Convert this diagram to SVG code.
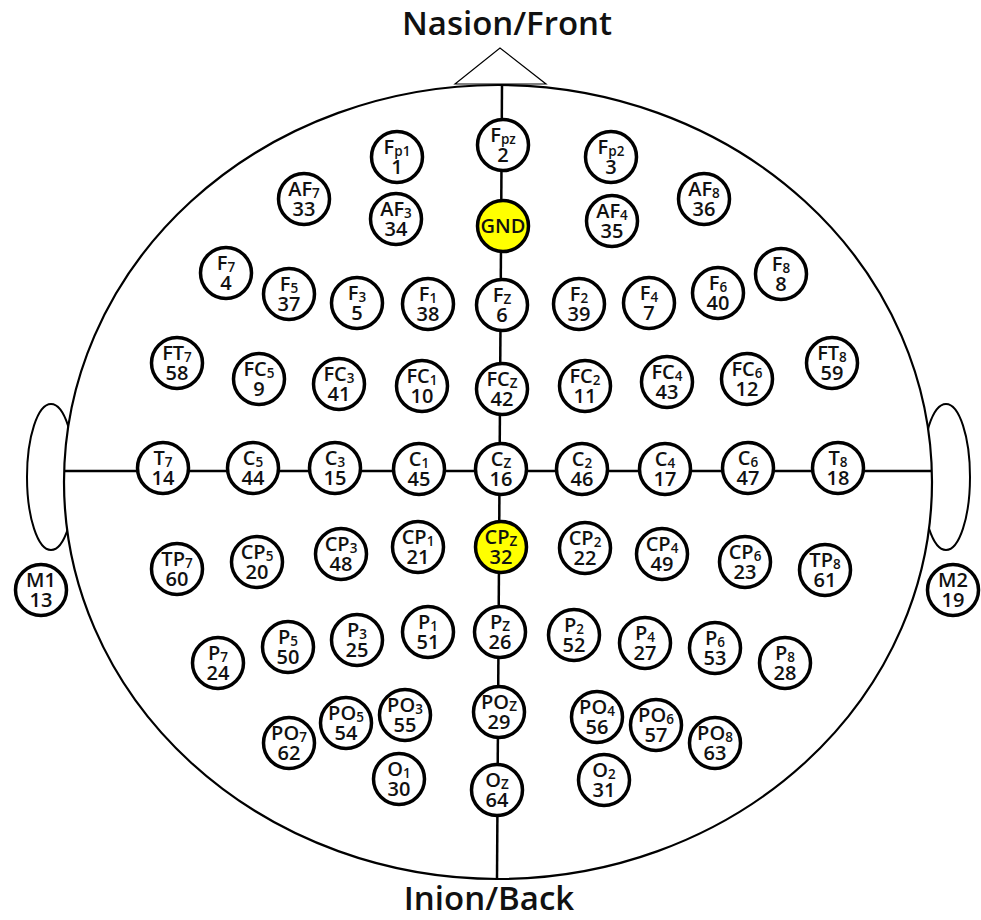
<svg xmlns="http://www.w3.org/2000/svg" width="981" height="920" viewBox="0 0 981 920">
<style>
.bg{fill:#fff}
.ear{fill:#fff;stroke:#000;stroke-width:2}
.head{fill:#fff;stroke:#000;stroke-width:2.2}
.tri{fill:none;stroke:#000;stroke-width:1.2}
.conn{stroke:#000;stroke-width:2.5;fill:none}
.node circle{fill:#fff;stroke:#000;stroke-width:3.5}
.node.hl circle{fill:#ffff00}
.node text{font-family:"Open Sans","Noto Sans","DejaVu Sans",sans-serif;font-size:20px;font-weight:600;fill:#111;text-anchor:middle}
.node text .s{font-size:13.5px}
.title{font-family:"Open Sans","Noto Sans","DejaVu Sans",sans-serif;font-size:33px;font-weight:600;fill:#111;text-anchor:middle}
</style>
<rect class="bg" x="0" y="0" width="981" height="920"/>
<g id="outline">
<ellipse class="ear" cx="51" cy="477" rx="24" ry="73"/>
<ellipse class="ear" cx="946" cy="477" rx="24" ry="73"/>
<ellipse class="head" cx="498" cy="482" rx="434" ry="397"/>
<polygon class="tri" points="455,84 500,48 546,84"/>
<text class="title" x="507" y="35">Nasion/Front</text>
<text class="title" x="489" y="910">Inion/Back</text>
</g>
<g id="connectors">
<line class="conn" x1="502" y1="85" x2="497" y2="879"/>
<line class="conn" x1="65" y1="471" x2="932" y2="471"/>
</g>
<g id="nodes">
<g id="n-Fp1" class="node"><circle cx="397" cy="157" r="25.5"/><text x="397" y="154">F<tspan class="s" dy="2">p1</tspan><tspan x="397" dy="18">1</tspan></text></g>
<g id="n-Fpz" class="node"><circle cx="503" cy="145" r="25.5"/><text x="503" y="142">F<tspan class="s" dy="2">pz</tspan><tspan x="503" dy="18">2</tspan></text></g>
<g id="n-Fp2" class="node"><circle cx="611" cy="157" r="25.5"/><text x="611" y="154">F<tspan class="s" dy="2">p2</tspan><tspan x="611" dy="18">3</tspan></text></g>
<g id="n-AF7" class="node"><circle cx="304" cy="199" r="25.5"/><text x="304" y="196">AF<tspan class="s" dy="2">7</tspan><tspan x="304" dy="18">33</tspan></text></g>
<g id="n-AF3" class="node"><circle cx="396" cy="219" r="25.5"/><text x="396" y="216">AF<tspan class="s" dy="2">3</tspan><tspan x="396" dy="18">34</tspan></text></g>
<g id="n-GND" class="node hl"><circle cx="503" cy="226" r="25.5"/><text x="503" y="233">GND</text></g>
<g id="n-AF4" class="node"><circle cx="612" cy="221" r="25.5"/><text x="612" y="218">AF<tspan class="s" dy="2">4</tspan><tspan x="612" dy="18">35</tspan></text></g>
<g id="n-AF8" class="node"><circle cx="704" cy="199" r="25.5"/><text x="704" y="196">AF<tspan class="s" dy="2">8</tspan><tspan x="704" dy="18">36</tspan></text></g>
<g id="n-F7" class="node"><circle cx="226" cy="273" r="25.5"/><text x="226" y="270">F<tspan class="s" dy="2">7</tspan><tspan x="226" dy="18">4</tspan></text></g>
<g id="n-F5" class="node"><circle cx="289" cy="294" r="25.5"/><text x="289" y="291">F<tspan class="s" dy="2">5</tspan><tspan x="289" dy="18">37</tspan></text></g>
<g id="n-F3" class="node"><circle cx="357" cy="303" r="25.5"/><text x="357" y="300">F<tspan class="s" dy="2">3</tspan><tspan x="357" dy="18">5</tspan></text></g>
<g id="n-F1" class="node"><circle cx="428" cy="304" r="25.5"/><text x="428" y="301">F<tspan class="s" dy="2">1</tspan><tspan x="428" dy="18">38</tspan></text></g>
<g id="n-Fz" class="node"><circle cx="502" cy="305" r="25.5"/><text x="502" y="302">F<tspan class="s" dy="2">Z</tspan><tspan x="502" dy="18">6</tspan></text></g>
<g id="n-F2" class="node"><circle cx="579" cy="304" r="25.5"/><text x="579" y="301">F<tspan class="s" dy="2">2</tspan><tspan x="579" dy="18">39</tspan></text></g>
<g id="n-F4" class="node"><circle cx="649" cy="303" r="25.5"/><text x="649" y="300">F<tspan class="s" dy="2">4</tspan><tspan x="649" dy="18">7</tspan></text></g>
<g id="n-F6" class="node"><circle cx="718" cy="293" r="25.5"/><text x="718" y="290">F<tspan class="s" dy="2">6</tspan><tspan x="718" dy="18">40</tspan></text></g>
<g id="n-F8" class="node"><circle cx="781" cy="274" r="25.5"/><text x="781" y="271">F<tspan class="s" dy="2">8</tspan><tspan x="781" dy="18">8</tspan></text></g>
<g id="n-FT7" class="node"><circle cx="177" cy="363" r="25.5"/><text x="177" y="360">FT<tspan class="s" dy="2">7</tspan><tspan x="177" dy="18">58</tspan></text></g>
<g id="n-FC5" class="node"><circle cx="259" cy="379" r="25.5"/><text x="259" y="376">FC<tspan class="s" dy="2">5</tspan><tspan x="259" dy="18">9</tspan></text></g>
<g id="n-FC3" class="node"><circle cx="339" cy="384" r="25.5"/><text x="339" y="381">FC<tspan class="s" dy="2">3</tspan><tspan x="339" dy="18">41</tspan></text></g>
<g id="n-FC1" class="node"><circle cx="422" cy="386" r="25.5"/><text x="422" y="383">FC<tspan class="s" dy="2">1</tspan><tspan x="422" dy="18">10</tspan></text></g>
<g id="n-FCz" class="node"><circle cx="502" cy="389" r="25.5"/><text x="502" y="386">FC<tspan class="s" dy="2">Z</tspan><tspan x="502" dy="18">42</tspan></text></g>
<g id="n-FC2" class="node"><circle cx="585" cy="386" r="25.5"/><text x="585" y="383">FC<tspan class="s" dy="2">2</tspan><tspan x="585" dy="18">11</tspan></text></g>
<g id="n-FC4" class="node"><circle cx="667" cy="382" r="25.5"/><text x="667" y="379">FC<tspan class="s" dy="2">4</tspan><tspan x="667" dy="18">43</tspan></text></g>
<g id="n-FC6" class="node"><circle cx="747" cy="379" r="25.5"/><text x="747" y="376">FC<tspan class="s" dy="2">6</tspan><tspan x="747" dy="18">12</tspan></text></g>
<g id="n-FT8" class="node"><circle cx="832" cy="363" r="25.5"/><text x="832" y="360">FT<tspan class="s" dy="2">8</tspan><tspan x="832" dy="18">59</tspan></text></g>
<g id="n-T7" class="node"><circle cx="163" cy="468" r="25.5"/><text x="163" y="465">T<tspan class="s" dy="2">7</tspan><tspan x="163" dy="18">14</tspan></text></g>
<g id="n-C5" class="node"><circle cx="253" cy="468" r="25.5"/><text x="253" y="465">C<tspan class="s" dy="2">5</tspan><tspan x="253" dy="18">44</tspan></text></g>
<g id="n-C3" class="node"><circle cx="335" cy="468" r="25.5"/><text x="335" y="465">C<tspan class="s" dy="2">3</tspan><tspan x="335" dy="18">15</tspan></text></g>
<g id="n-C1" class="node"><circle cx="419" cy="469" r="25.5"/><text x="419" y="466">C<tspan class="s" dy="2">1</tspan><tspan x="419" dy="18">45</tspan></text></g>
<g id="n-Cz" class="node"><circle cx="501" cy="469" r="25.5"/><text x="501" y="466">C<tspan class="s" dy="2">Z</tspan><tspan x="501" dy="18">16</tspan></text></g>
<g id="n-C2" class="node"><circle cx="582" cy="469" r="25.5"/><text x="582" y="466">C<tspan class="s" dy="2">2</tspan><tspan x="582" dy="18">46</tspan></text></g>
<g id="n-C4" class="node"><circle cx="665" cy="469" r="25.5"/><text x="665" y="466">C<tspan class="s" dy="2">4</tspan><tspan x="665" dy="18">17</tspan></text></g>
<g id="n-C6" class="node"><circle cx="748" cy="468" r="25.5"/><text x="748" y="465">C<tspan class="s" dy="2">6</tspan><tspan x="748" dy="18">47</tspan></text></g>
<g id="n-T8" class="node"><circle cx="838" cy="468" r="25.5"/><text x="838" y="465">T<tspan class="s" dy="2">8</tspan><tspan x="838" dy="18">18</tspan></text></g>
<g id="n-M1" class="node"><circle cx="41" cy="590" r="25.5"/><text x="41" y="587">M1<tspan x="41" dy="20">13</tspan></text></g>
<g id="n-TP7" class="node"><circle cx="177" cy="569" r="25.5"/><text x="177" y="566">TP<tspan class="s" dy="2">7</tspan><tspan x="177" dy="18">60</tspan></text></g>
<g id="n-CP5" class="node"><circle cx="257" cy="562" r="25.5"/><text x="257" y="559">CP<tspan class="s" dy="2">5</tspan><tspan x="257" dy="18">20</tspan></text></g>
<g id="n-CP3" class="node"><circle cx="341" cy="554" r="25.5"/><text x="341" y="551">CP<tspan class="s" dy="2">3</tspan><tspan x="341" dy="18">48</tspan></text></g>
<g id="n-CP1" class="node"><circle cx="418" cy="547" r="25.5"/><text x="418" y="544">CP<tspan class="s" dy="2">1</tspan><tspan x="418" dy="18">21</tspan></text></g>
<g id="n-CPz" class="node hl"><circle cx="501" cy="547" r="25.5"/><text x="501" y="544">CP<tspan class="s" dy="2">Z</tspan><tspan x="501" dy="18">32</tspan></text></g>
<g id="n-CP2" class="node"><circle cx="585" cy="548" r="25.5"/><text x="585" y="545">CP<tspan class="s" dy="2">2</tspan><tspan x="585" dy="18">22</tspan></text></g>
<g id="n-CP4" class="node"><circle cx="662" cy="554" r="25.5"/><text x="662" y="551">CP<tspan class="s" dy="2">4</tspan><tspan x="662" dy="18">49</tspan></text></g>
<g id="n-CP6" class="node"><circle cx="745" cy="562" r="25.5"/><text x="745" y="559">CP<tspan class="s" dy="2">6</tspan><tspan x="745" dy="18">23</tspan></text></g>
<g id="n-TP8" class="node"><circle cx="825" cy="570" r="25.5"/><text x="825" y="567">TP<tspan class="s" dy="2">8</tspan><tspan x="825" dy="18">61</tspan></text></g>
<g id="n-M2" class="node"><circle cx="953" cy="590" r="25.5"/><text x="953" y="587">M2<tspan x="953" dy="20">19</tspan></text></g>
<g id="n-P7" class="node"><circle cx="218" cy="663" r="25.5"/><text x="218" y="660">P<tspan class="s" dy="2">7</tspan><tspan x="218" dy="18">24</tspan></text></g>
<g id="n-P5" class="node"><circle cx="288" cy="647" r="25.5"/><text x="288" y="644">P<tspan class="s" dy="2">5</tspan><tspan x="288" dy="18">50</tspan></text></g>
<g id="n-P3" class="node"><circle cx="357" cy="640" r="25.5"/><text x="357" y="637">P<tspan class="s" dy="2">3</tspan><tspan x="357" dy="18">25</tspan></text></g>
<g id="n-P1" class="node"><circle cx="428" cy="632" r="25.5"/><text x="428" y="629">P<tspan class="s" dy="2">1</tspan><tspan x="428" dy="18">51</tspan></text></g>
<g id="n-Pz" class="node"><circle cx="500" cy="632" r="25.5"/><text x="500" y="629">P<tspan class="s" dy="2">Z</tspan><tspan x="500" dy="18">26</tspan></text></g>
<g id="n-P2" class="node"><circle cx="574" cy="635" r="25.5"/><text x="574" y="632">P<tspan class="s" dy="2">2</tspan><tspan x="574" dy="18">52</tspan></text></g>
<g id="n-P4" class="node"><circle cx="645" cy="643" r="25.5"/><text x="645" y="640">P<tspan class="s" dy="2">4</tspan><tspan x="645" dy="18">27</tspan></text></g>
<g id="n-P6" class="node"><circle cx="715" cy="648" r="25.5"/><text x="715" y="645">P<tspan class="s" dy="2">6</tspan><tspan x="715" dy="18">53</tspan></text></g>
<g id="n-P8" class="node"><circle cx="785" cy="663" r="25.5"/><text x="785" y="660">P<tspan class="s" dy="2">8</tspan><tspan x="785" dy="18">28</tspan></text></g>
<g id="n-PO7" class="node"><circle cx="289" cy="743" r="25.5"/><text x="289" y="740">PO<tspan class="s" dy="2">7</tspan><tspan x="289" dy="18">62</tspan></text></g>
<g id="n-PO5" class="node"><circle cx="346" cy="723" r="25.5"/><text x="346" y="720">PO<tspan class="s" dy="2">5</tspan><tspan x="346" dy="18">54</tspan></text></g>
<g id="n-PO3" class="node"><circle cx="405" cy="715" r="25.5"/><text x="405" y="712">PO<tspan class="s" dy="2">3</tspan><tspan x="405" dy="18">55</tspan></text></g>
<g id="n-POz" class="node"><circle cx="499" cy="712" r="25.5"/><text x="499" y="709">PO<tspan class="s" dy="2">Z</tspan><tspan x="499" dy="18">29</tspan></text></g>
<g id="n-PO4" class="node"><circle cx="597" cy="717" r="25.5"/><text x="597" y="714">PO<tspan class="s" dy="2">4</tspan><tspan x="597" dy="18">56</tspan></text></g>
<g id="n-PO6" class="node"><circle cx="656" cy="725" r="25.5"/><text x="656" y="722">PO<tspan class="s" dy="2">6</tspan><tspan x="656" dy="18">57</tspan></text></g>
<g id="n-PO8" class="node"><circle cx="715" cy="743" r="25.5"/><text x="715" y="740">PO<tspan class="s" dy="2">8</tspan><tspan x="715" dy="18">63</tspan></text></g>
<g id="n-O1" class="node"><circle cx="399" cy="779" r="25.5"/><text x="399" y="776">O<tspan class="s" dy="2">1</tspan><tspan x="399" dy="18">30</tspan></text></g>
<g id="n-Oz" class="node"><circle cx="497" cy="790" r="25.5"/><text x="497" y="787">O<tspan class="s" dy="2">Z</tspan><tspan x="497" dy="18">64</tspan></text></g>
<g id="n-O2" class="node"><circle cx="604" cy="780" r="25.5"/><text x="604" y="777">O<tspan class="s" dy="2">2</tspan><tspan x="604" dy="18">31</tspan></text></g>
</g>
</svg>
